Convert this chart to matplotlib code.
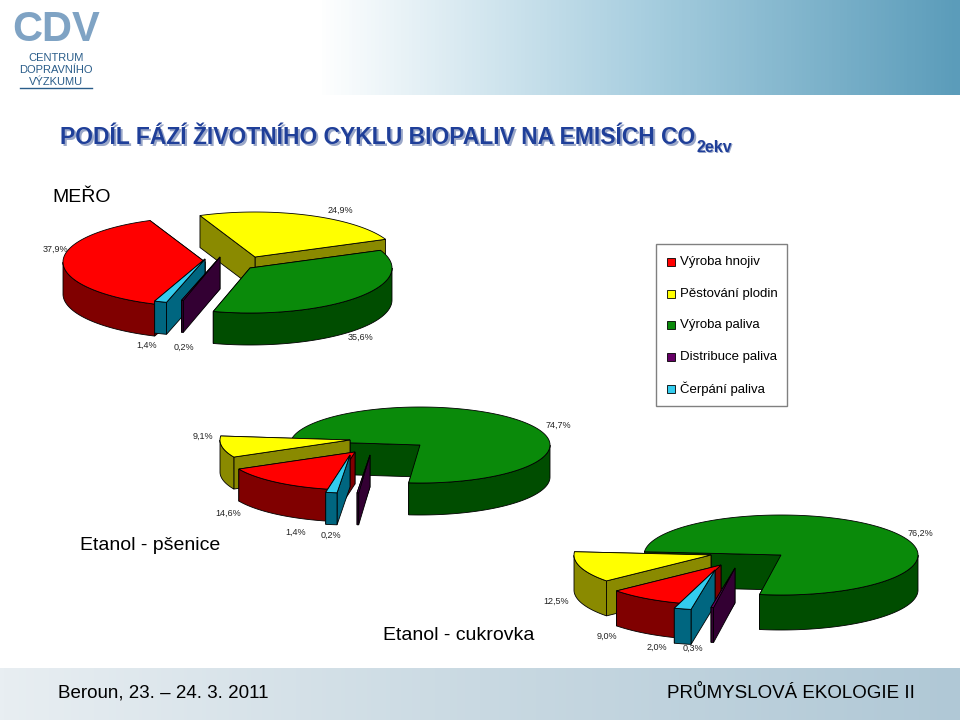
import numpy as np
import matplotlib
matplotlib.use("Agg")
import matplotlib.pyplot as plt
from matplotlib.patches import Polygon, Rectangle
from matplotlib.colors import LinearSegmentedColormap

plt.rcParams['font.family'] = ['Liberation Sans', 'DejaVu Sans']

# ---- data ----
phases = ["Výroba hnojiv", "Pěstování plodin", "Výroba paliva", "Distribuce paliva", "Čerpání paliva"]
mero = [37.9, 24.9, 35.6, 0.2, 1.4]
psenice = [14.6, 9.1, 74.7, 0.2, 1.4]
cukrovka = [9.0, 12.5, 76.2, 0.3, 2.0]
labels_mero = ["37,9%", "24,9%", "35,6%", "0,2%", "1,4%"]
labels_psenice = ["14,6%", "9,1%", "74,7%", "0,2%", "1,4%"]
labels_cukrovka = ["9,0%", "12,5%", "76,2%", "0,3%", "2,0%"]

top_col = ['#ff0000', '#ffff00', '#0a8a0a', '#660066', '#33ccee']
side_col = ['#800000', '#8a8a00', '#004d00', '#330033', '#006680']

fig = plt.figure(figsize=(9.6, 7.2), dpi=100)
ax = fig.add_axes([0, 0, 1, 1])
ax.axis('off')

g = np.linspace(0, 1, 256)[None, :]
hc = LinearSegmentedColormap.from_list('h', ['#ffffff', '#ffffff', '#a9cfe0', '#5b9cba'])
ax.imshow(g, extent=[0, 960, 95, 0], cmap=hc, aspect='auto', zorder=0)
fc = LinearSegmentedColormap.from_list('f', ['#e8eef2', '#c9d9e2', '#b0c8d6'])
ax.imshow(g, extent=[0, 960, 720, 668], cmap=fc, aspect='auto', zorder=0)
ax.set_xlim(0, 960); ax.set_ylim(720, 0)

# logo
ax.text(56, 30, "CDV", fontsize=30, color='#7fa3c4', ha='center', va='center', fontweight='bold')
for i, t in enumerate(["CENTRUM", "DOPRAVNÍHO", "VÝZKUMU"]):
    ax.text(56, 58 + 12 * i, t, fontsize=8, color='#2a5d8a', ha='center', va='center')
ax.plot([20, 92], [88, 88], color='#2a5d8a', lw=1)

# title
fig.canvas.draw()
r = fig.canvas.get_renderer()
for dx, c in [(1.5, '#9aa7c8'), (0, '#1f3f99')]:
    t = ax.text(60 + dx, 138 + dx, "PODÍL FÁZÍ ŽIVOTNÍHO CYKLU BIOPALIV NA EMISÍCH CO", fontsize=16.5,
                fontweight='bold', color=c, va='center', ha='left')
    bb = t.get_window_extent(r)
    x_end = ax.transData.inverted().transform((bb.x1, bb.y0))[0]
    ax.text(x_end + 1, 147 + dx, "2ekv", fontsize=11.5, fontweight='bold', color=c, va='center', ha='left')

def pie3d(vals, start, cx, cy, rx, ry, depth, offs):
    order = [2, 1, 0, 4, 3]  # ccw: green, yellow, red, cyan, purple
    t = start
    items = []
    for i in order:
        span = vals[i] / 100 * 360
        mid = np.radians(t + span / 2)
        items.append((np.sin(mid), i, t, t + span, cx + offs[i][0], cy + offs[i][1]))
        t += span
    items.sort(key=lambda z: -z[0])
    for _, i, t1, t2, ox, oy in items:
        tt = np.radians(np.linspace(t1, t2, max(int((t2 - t1) * 2), 3)))
        X = ox + rx * np.cos(tt); Y = oy - ry * np.sin(tt)
        kw = dict(ec='black', lw=0.6, zorder=3)
        for a in (tt[0], tt[-1]):
            ex, ey = ox + rx * np.cos(a), oy - ry * np.sin(a)
            ax.add_patch(Polygon([(ox, oy), (ex, ey), (ex, ey + depth), (ox, oy + depth)],
                                 fc=side_col[i], **kw))
        idx = np.where(np.sin(tt) <= 0.001)[0]
        if len(idx) > 1:
            for rr in np.split(idx, np.where(np.diff(idx) > 1)[0] + 1):
                if len(rr) < 2:
                    continue
                px, py = X[rr], Y[rr]
                pts = list(zip(px, py)) + list(zip(px[::-1], py[::-1] + depth))
                ax.add_patch(Polygon(pts, fc=side_col[i], **kw))
        ax.add_patch(Polygon([(ox, oy)] + list(zip(X, Y)), fc=top_col[i], **kw))

# offsets per wedge: red, yellow, green, purple, cyan
pie3d(mero, 255, 235, 262, 142, 45, 32,
      [(-30, 0), (20, -5), (15, 6), (-15, -5), (-30, -3)])
pie3d(psenice, 265, 420, 445, 130, 38, 32,
      [(-65, 7), (-70, -5), (0, 0), (-50, 10), (-70, 10)])
pie3d(cukrovka, 261, 781, 555, 137, 40, 35,
      [(-60, 10), (-70, 0), (0, 0), (-46, 13), (-66, 15)])

def labs(labels, pos):
    for l, (x, y) in zip(labels, pos):
        ax.text(x, y, l, fontsize=6.5, ha='center', va='center', zorder=5, color='#222222')

labs(labels_mero, [(55, 249), (340, 210), (361, 337), (184, 347), (147, 345)])
labs(labels_psenice, [(228, 513), (203, 436), (558, 425), (331, 535), (296, 532)])
labs(labels_cukrovka, [(607, 636), (556, 601), (920, 533), (693, 648), (657, 647)])

ax.text(52, 197, "MEŘO", fontsize=14, va='center')
ax.text(80, 546, "Etanol - pšenice", fontsize=14, va='center')
ax.text(383, 636, "Etanol - cukrovka", fontsize=14, va='center')

# legend
ax.add_patch(Rectangle((656, 244), 131, 162, fc='white', ec='#808080', lw=1, zorder=4))
for k in range(5):
    y = 262 + k * 31.7
    ax.add_patch(Rectangle((667, y - 4), 8, 8, fc=top_col[k], ec='black', lw=0.6, zorder=5))
    ax.text(680, y, phases[k], fontsize=9.5, va='center', zorder=5)

ax.text(58, 693, "Beroun, 23. – 24. 3. 2011", fontsize=13.5, va='center')
ax.text(915, 693, "PRŮMYSLOVÁ EKOLOGIE II", fontsize=13.5, va='center', ha='right')

fig.savefig("out.png", dpi=100)
